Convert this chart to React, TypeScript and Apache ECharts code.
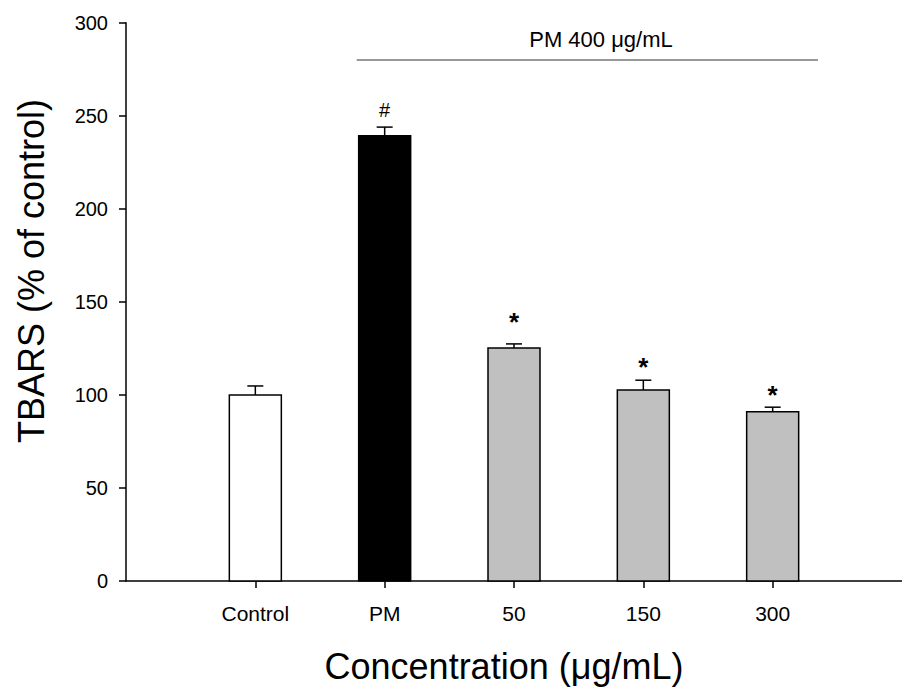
import React, { useEffect, useRef } from "react";
import * as echarts from "echarts";

const categories = ["Control", "PM", "50", "150", "300"];
const means = [100, 239.2, 125.2, 102.7, 90.9];
const errors = [4.8, 4.7, 2.2, 5.2, 2.5];
const fills = ["#ffffff", "#000000", "#c0c0c0", "#c0c0c0", "#c0c0c0"];
const markers = ["", "#", "*", "*", "*"];
const markerY = [0, 253.3, 141.8, 117.7, 102.9];
const yTicks = [0, 50, 100, 150, 200, 250, 300];

const FONT = "'Liberation Sans', Arial, Helvetica, sans-serif";

export default function App() {
  const ref = useRef<HTMLDivElement>(null);
  useEffect(() => {
    document.body.style.margin = "0";
    const chart = echarts.init(ref.current!, null, { renderer: "svg" });
    const data = categories.map((c, i) => [i + 1, means[i], errors[i], i]);
    chart.setOption({
      animation: false,
      backgroundColor: "#ffffff",
      grid: { left: 126, top: 22.7, bottom: 110, right: -7, containLabel: false },
      xAxis: {
        type: "value",
        min: 0,
        max: 6,
        interval: 1,
        splitLine: { show: false },
        axisLine: { show: true, lineStyle: { color: "#000", width: 1.5 } },
        axisTick: { show: true, length: 7, lineStyle: { color: "#000", width: 1.5 }, customValues: [1, 2, 3, 4, 5] },
        axisLabel: {
          customValues: [1, 2, 3, 4, 5],
          formatter: (v: number) => categories[Math.round(v) - 1] ?? "",
          color: "#000",
          fontFamily: FONT,
          fontSize: 21,
          margin: 22,
        },
      },
      yAxis: {
        type: "value",
        min: 0,
        max: 300,
        interval: 50,
        splitLine: { show: false },
        axisLine: { show: true, lineStyle: { color: "#000", width: 1.5 } },
        axisTick: { show: true, length: 7, lineStyle: { color: "#000", width: 1.5 } },
        axisLabel: {
          color: "#000",
          fontFamily: FONT,
          fontSize: 20,
          margin: 18,
          formatter: (v: number) => (yTicks.includes(v) ? String(v) : ""),
        },
      },
      series: [
        {
          type: "custom",
          clip: false,
          data,
          renderItem: (params: any, api: any) => {
            const x = api.value(0);
            const m = api.value(1);
            const e = api.value(2);
            const idx = api.value(3);
            const top = api.coord([x, m]);
            const base = api.coord([x, 0]);
            const capPt = api.coord([x, m + e]);
            const bw = 52;
            const cw = 16;
            const children: any[] = [
              {
                type: "rect",
                shape: { x: top[0] - bw / 2, y: top[1], width: bw, height: base[1] - top[1] },
                style: { fill: fills[idx], stroke: "#000", lineWidth: 1.5 },
              },
              {
                type: "line",
                shape: { x1: top[0], y1: top[1], x2: capPt[0], y2: capPt[1] },
                style: { stroke: "#000", lineWidth: 1.5 },
              },
              {
                type: "line",
                shape: { x1: capPt[0] - cw / 2, y1: capPt[1], x2: capPt[0] + cw / 2, y2: capPt[1] },
                style: { stroke: "#000", lineWidth: 1.5 },
              },
            ];
            const mk = markers[idx];
            if (mk) {
              const p = api.coord([x, markerY[idx]]);
              const isStar = mk === "*";
              children.push({
                type: "text",
                x: p[0],
                y: p[1] + (isStar ? 5 : 0),
                style: {
                  text: mk,
                  fill: "#000",
                  fontFamily: FONT,
                  fontSize: isStar ? 26 : 20,
                  fontWeight: isStar ? "bold" : "normal",
                  align: "center",
                  verticalAlign: "middle",
                },
              });
            }
            return { type: "group", children };
          },
        },
      ],
      graphic: [
        {
          type: "line",
          shape: { x1: 356.7, y1: 60, x2: 818, y2: 60 },
          style: { stroke: "#333", lineWidth: 1.2 },
        },
        {
          type: "text",
          x: 601,
          y: 39,
          style: {
            text: "PM 400 μg/mL",
            fill: "#000",
            fontFamily: FONT,
            fontSize: 22,
            align: "center",
            verticalAlign: "middle",
          },
        },
        {
          type: "text",
          x: 504,
          y: 666,
          style: {
            text: "Concentration (μg/mL)",
            fill: "#000",
            fontFamily: FONT,
            fontSize: 36,
            align: "center",
            verticalAlign: "middle",
          },
        },
        {
          type: "text",
          x: 31,
          y: 271,
          rotation: Math.PI / 2,
          style: {
            text: "TBARS (% of control)",
            fill: "#000",
            fontFamily: FONT,
            fontSize: 36,
            align: "center",
            verticalAlign: "middle",
          },
        },
      ],
    });
    return () => chart.dispose();
  }, []);
  return <div ref={ref} style={{ width: 902, height: 691 }} />;
}
